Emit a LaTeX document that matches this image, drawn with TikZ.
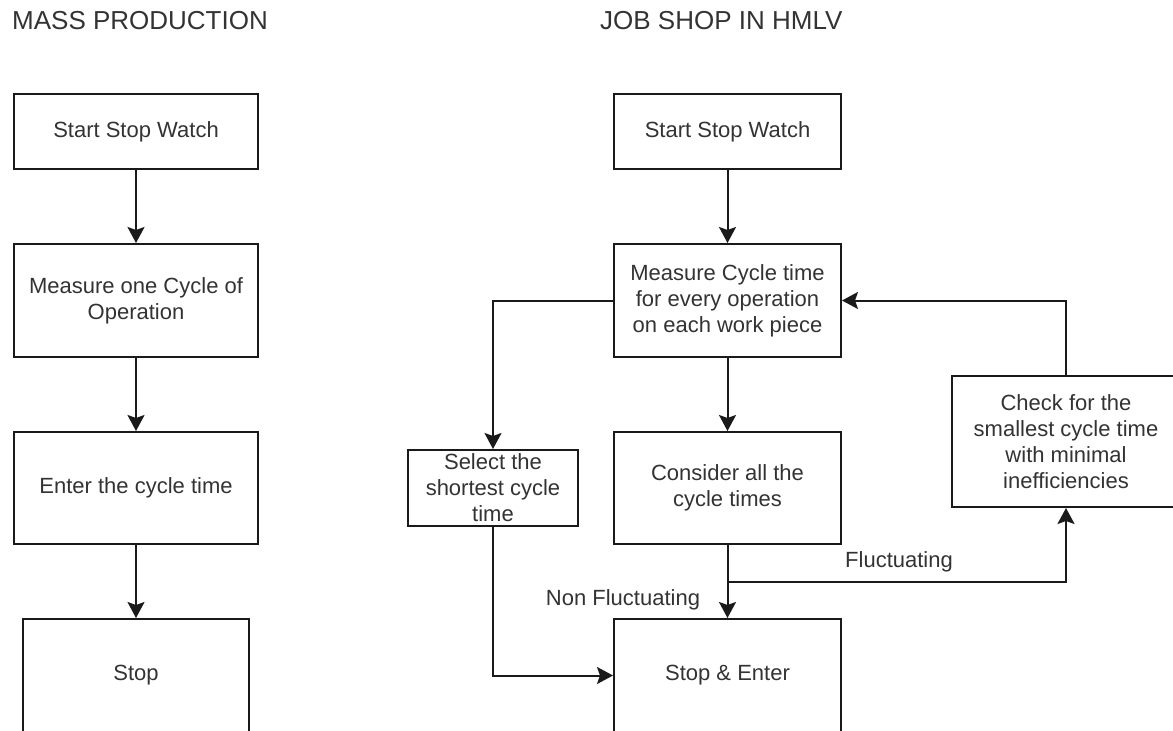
\documentclass[tikz,border=0pt]{standalone}
\usepackage{fontspec}
\setmainfont{Liberation Sans}
\usetikzlibrary{arrows.meta}
\definecolor{txt}{HTML}{333333}
\definecolor{ln}{HTML}{1A1A1A}
\tikzset{
  box/.style={draw=ln, line width=2pt, fill=white, align=center, inner sep=0pt,
    text=txt, font=\fontsize{22}{26}\selectfont},
  lbl/.style={text=txt, font=\fontsize{22}{26}\selectfont, inner sep=0pt},
  ttl/.style={text=txt, font=\fontsize{26}{30}\selectfont, inner sep=0pt, anchor=west},
  arr/.style={draw=ln, line width=2pt, -{Stealth[length=16pt,width=17pt,inset=3pt]}},
  conn/.style={draw=ln, line width=2pt}
}
\begin{document}
\begin{tikzpicture}[x=1pt,y=-1pt]
\useasboundingbox (0,0) rectangle (1173,731);
\clip (0,0) rectangle (1173,731);
% titles
\node[ttl] (t1) at (12,21) {MASS PRODUCTION};
\node[ttl] (t2) at (600,21) {JOB SHOP IN HMLV};
% left column
\node[box, minimum width=244pt, minimum height=75pt] (L1) at (136,131.5) {Start Stop Watch};
\node[box, minimum width=244pt, minimum height=113pt] (L2) at (136,300.5) {Measure one Cycle of\\Operation};
\node[box, minimum width=244pt, minimum height=112pt] (L3) at (136,488) {Enter the cycle time};
\node[box, minimum width=226pt, minimum height=113pt] (L4) at (136,675.5) {Stop};
\draw[arr] (L1.south) -- (L2.north);
\draw[arr] (L2.south) -- (L3.north);
\draw[arr] (L3.south) -- (L4.north);
% right column
\node[box, minimum width=227pt, minimum height=75pt] (R1) at (727.5,131.5) {Start Stop Watch};
\node[box, minimum width=227pt, minimum height=113pt] (R2) at (727.5,300.5) {Measure Cycle time\\for every operation\\on each work piece};
\node[box, minimum width=227pt, minimum height=112pt] (R3) at (727.5,488) {Consider all the\\cycle times};
\node[box, minimum width=227pt, minimum height=113pt] (R4) at (727.5,675.5) {Stop \& Enter};
\node[box, minimum width=170pt, minimum height=76pt] (S) at (493,488) {Select the\\shortest cycle\\time};
\node[box, minimum width=228pt, minimum height=131pt] (C) at (1066,441.5) {Check for the\\smallest cycle time\\with minimal\\inefficiencies};
\draw[arr] (R1.south) -- (R2.north);
\draw[arr] (R2.south) -- (R3.north);
\draw[arr] (R3.south) -- (R4.north);
\draw[arr] (R2.west) -| (S.north);
\draw[arr] (S.south) |- (R4.west);
\coordinate (br) at (727.5,582);
\draw[arr] (br) -| (C.south);
\draw[arr] (C.north) |- (R2.east);
\node[lbl] (f) at (899,562) {Fluctuating};
\node[lbl] (nf) at (623,600) {Non Fluctuating};
\end{tikzpicture}
\end{document}
